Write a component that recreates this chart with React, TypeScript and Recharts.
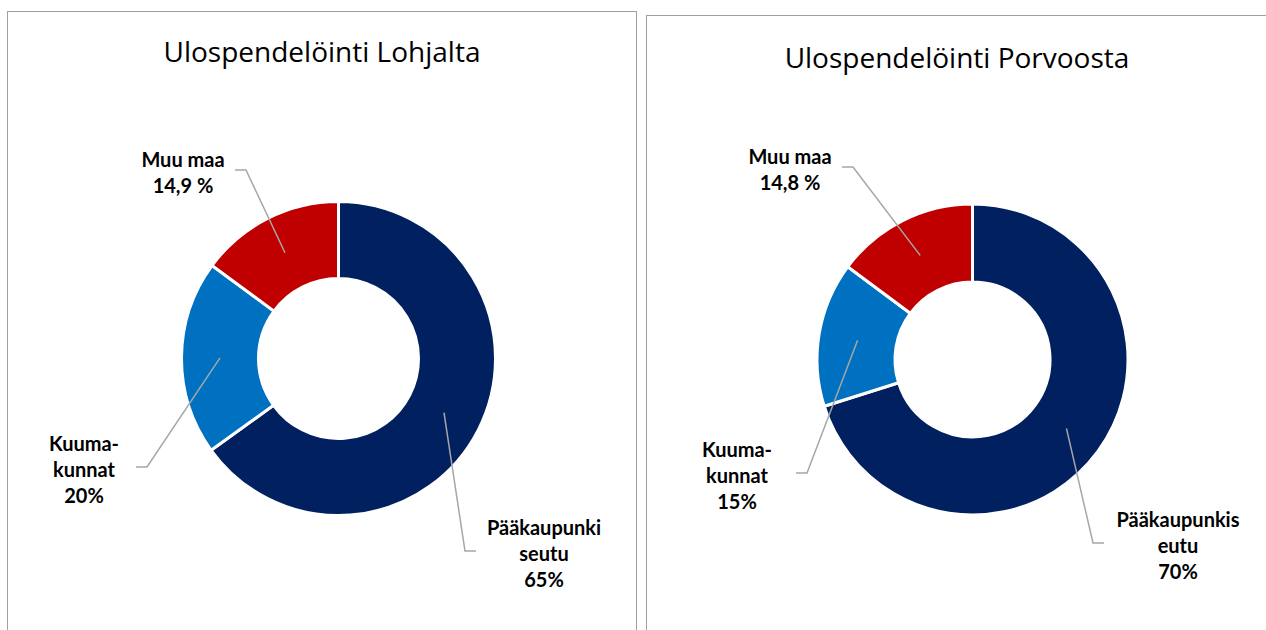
import React from 'react';
import { PieChart, Pie, Cell } from 'recharts';

const categories = ['Pääkaupunkiseutu', 'Kuumakunnat', 'Muu maa'];
const lohjaValues = [65, 20, 14.9];
const porvooValues = [70, 15, 14.8];
const lohjaLabels = [['Pääkaupunki', 'seutu', '65%'], ['Kuuma-', 'kunnat', '20%'], ['Muu maa', '14,9 %']];
const porvooLabels = [['Pääkaupunkis', 'eutu', '70%'], ['Kuuma-', 'kunnat', '15%'], ['Muu maa', '14,8 %']];

const COLORS = ['#002060', '#0070C0', '#C00000'];
const RAD = Math.PI / 180;

// where the leader line bends, relative to pie centre; side = direction of short tail
type Spot = { dx: number; dy: number; side: number; tx: number };
const lohjaSpots: Spot[] = [
  { dx: 126.5, dy: 192.5, side: 1, tx: 79 },
  { dx: -191.5, dy: 108.5, side: -1, tx: -63 },
  { dx: -92.5, dy: -188.5, side: -1, tx: -63 },
];
const porvooSpots: Spot[] = [
  { dx: 120.5, dy: 183.5, side: 1, tx: 85 },
  { dx: -165.5, dy: 113.5, side: -1, tx: -70 },
  { dx: -119.5, dy: -192.5, side: -1, tx: -63 },
];

const makeLabel = (lines: string[][], spots: Spot[]) => (props: any) => {
  const { cx, cy, midAngle, innerRadius, outerRadius, index } = props;
  const r = (Number(innerRadius) + Number(outerRadius)) / 2;
  const ax = cx + r * Math.cos(-midAngle * RAD);
  const ay = cy + r * Math.sin(-midAngle * RAD);
  const s = spots[index];
  const ex = cx + s.dx;
  const ey = cy + s.dy;
  const hx = ex + s.side * 11;
  const tx = ex + s.tx;
  const txt = lines[index];
  const lh = 26;
  const y0 = ey + 2 - ((txt.length - 1) * lh) / 2;
  return (
    <g>
      <polyline points={`${ax},${ay} ${ex},${ey} ${hx},${ey}`} stroke="#A6A6A6" strokeWidth={1.5} fill="none" />
      <text textAnchor="middle" fill="#000" fontFamily="Lato, sans-serif" fontWeight={700} fontSize={20}>
        {txt.map((t, i) => (
          <tspan key={i} x={tx} y={y0 + i * lh} dominantBaseline="central">
            {t}
          </tspan>
        ))}
      </text>
    </g>
  );
};

interface PanelProps {
  title: string;
  values: number[];
  labels: string[][];
  spots: Spot[];
  left: number;
  top: number;
  width: number;
  cx: number;
  cy: number;
  outer: number;
  inner: number;
  titleTop: number;
}

const DonutPanel: React.FC<PanelProps> = ({ title, values, labels, spots, left, top, width, cx, cy, outer, inner, titleTop }) => {
  const data = categories.map((name, i) => ({ name, value: values[i] }));
  return (
    <div
      style={{
        position: 'absolute',
        left,
        top,
        width,
        height: 660,
        border: '1px solid #A0A0A0',
        boxSizing: 'border-box',
        background: '#fff',
      }}
    >
      <div
        style={{
          position: 'absolute',
          left: 0,
          top: titleTop,
          width: '100%',
          textAlign: 'center',
          fontFamily: '"Open Sans", sans-serif',
          fontSize: 28,
          lineHeight: '38px',
          color: '#000',
        }}
      >
        {title}
      </div>
      <div style={{ position: 'absolute', left: 0, top: 0 }}>
        <PieChart width={width - 2} height={640} margin={{ top: 0, right: 0, bottom: 0, left: 0 }}>
          <Pie
            data={data}
            dataKey="value"
            nameKey="name"
            cx={cx}
            cy={cy}
            innerRadius={inner}
            outerRadius={outer}
            startAngle={90}
            endAngle={-270}
            stroke="#fff"
            strokeWidth={3}
            label={makeLabel(labels, spots)}
            labelLine={false}
            isAnimationActive={false}
          >
            {data.map((entry, index) => (
              <Cell key={`cell-${index}`} fill={COLORS[index % COLORS.length]} />
            ))}
          </Pie>
        </PieChart>
      </div>
    </div>
  );
};

const App: React.FC = () => {
  return (
    <div style={{ position: 'absolute', left: 0, top: 0, width: 1266, height: 630, overflow: 'hidden', background: '#fff' }}>
      <DonutPanel
        title="Ulospendelöinti Lohjalta"
        values={lohjaValues}
        labels={lohjaLabels}
        spots={lohjaSpots}
        left={7}
        top={11}
        width={630}
        cx={330.5}
        cy={346.5}
        outer={157}
        inner={80}
        titleTop={20}
      />
      <DonutPanel
        title="Ulospendelöinti Porvoosta"
        values={porvooValues}
        labels={porvooLabels}
        spots={porvooSpots}
        left={646}
        top={15}
        width={622}
        cx={325.5}
        cy={343.5}
        outer={155.5}
        inner={77.5}
        titleTop={22}
      />
    </div>
  );
};

export default App;
